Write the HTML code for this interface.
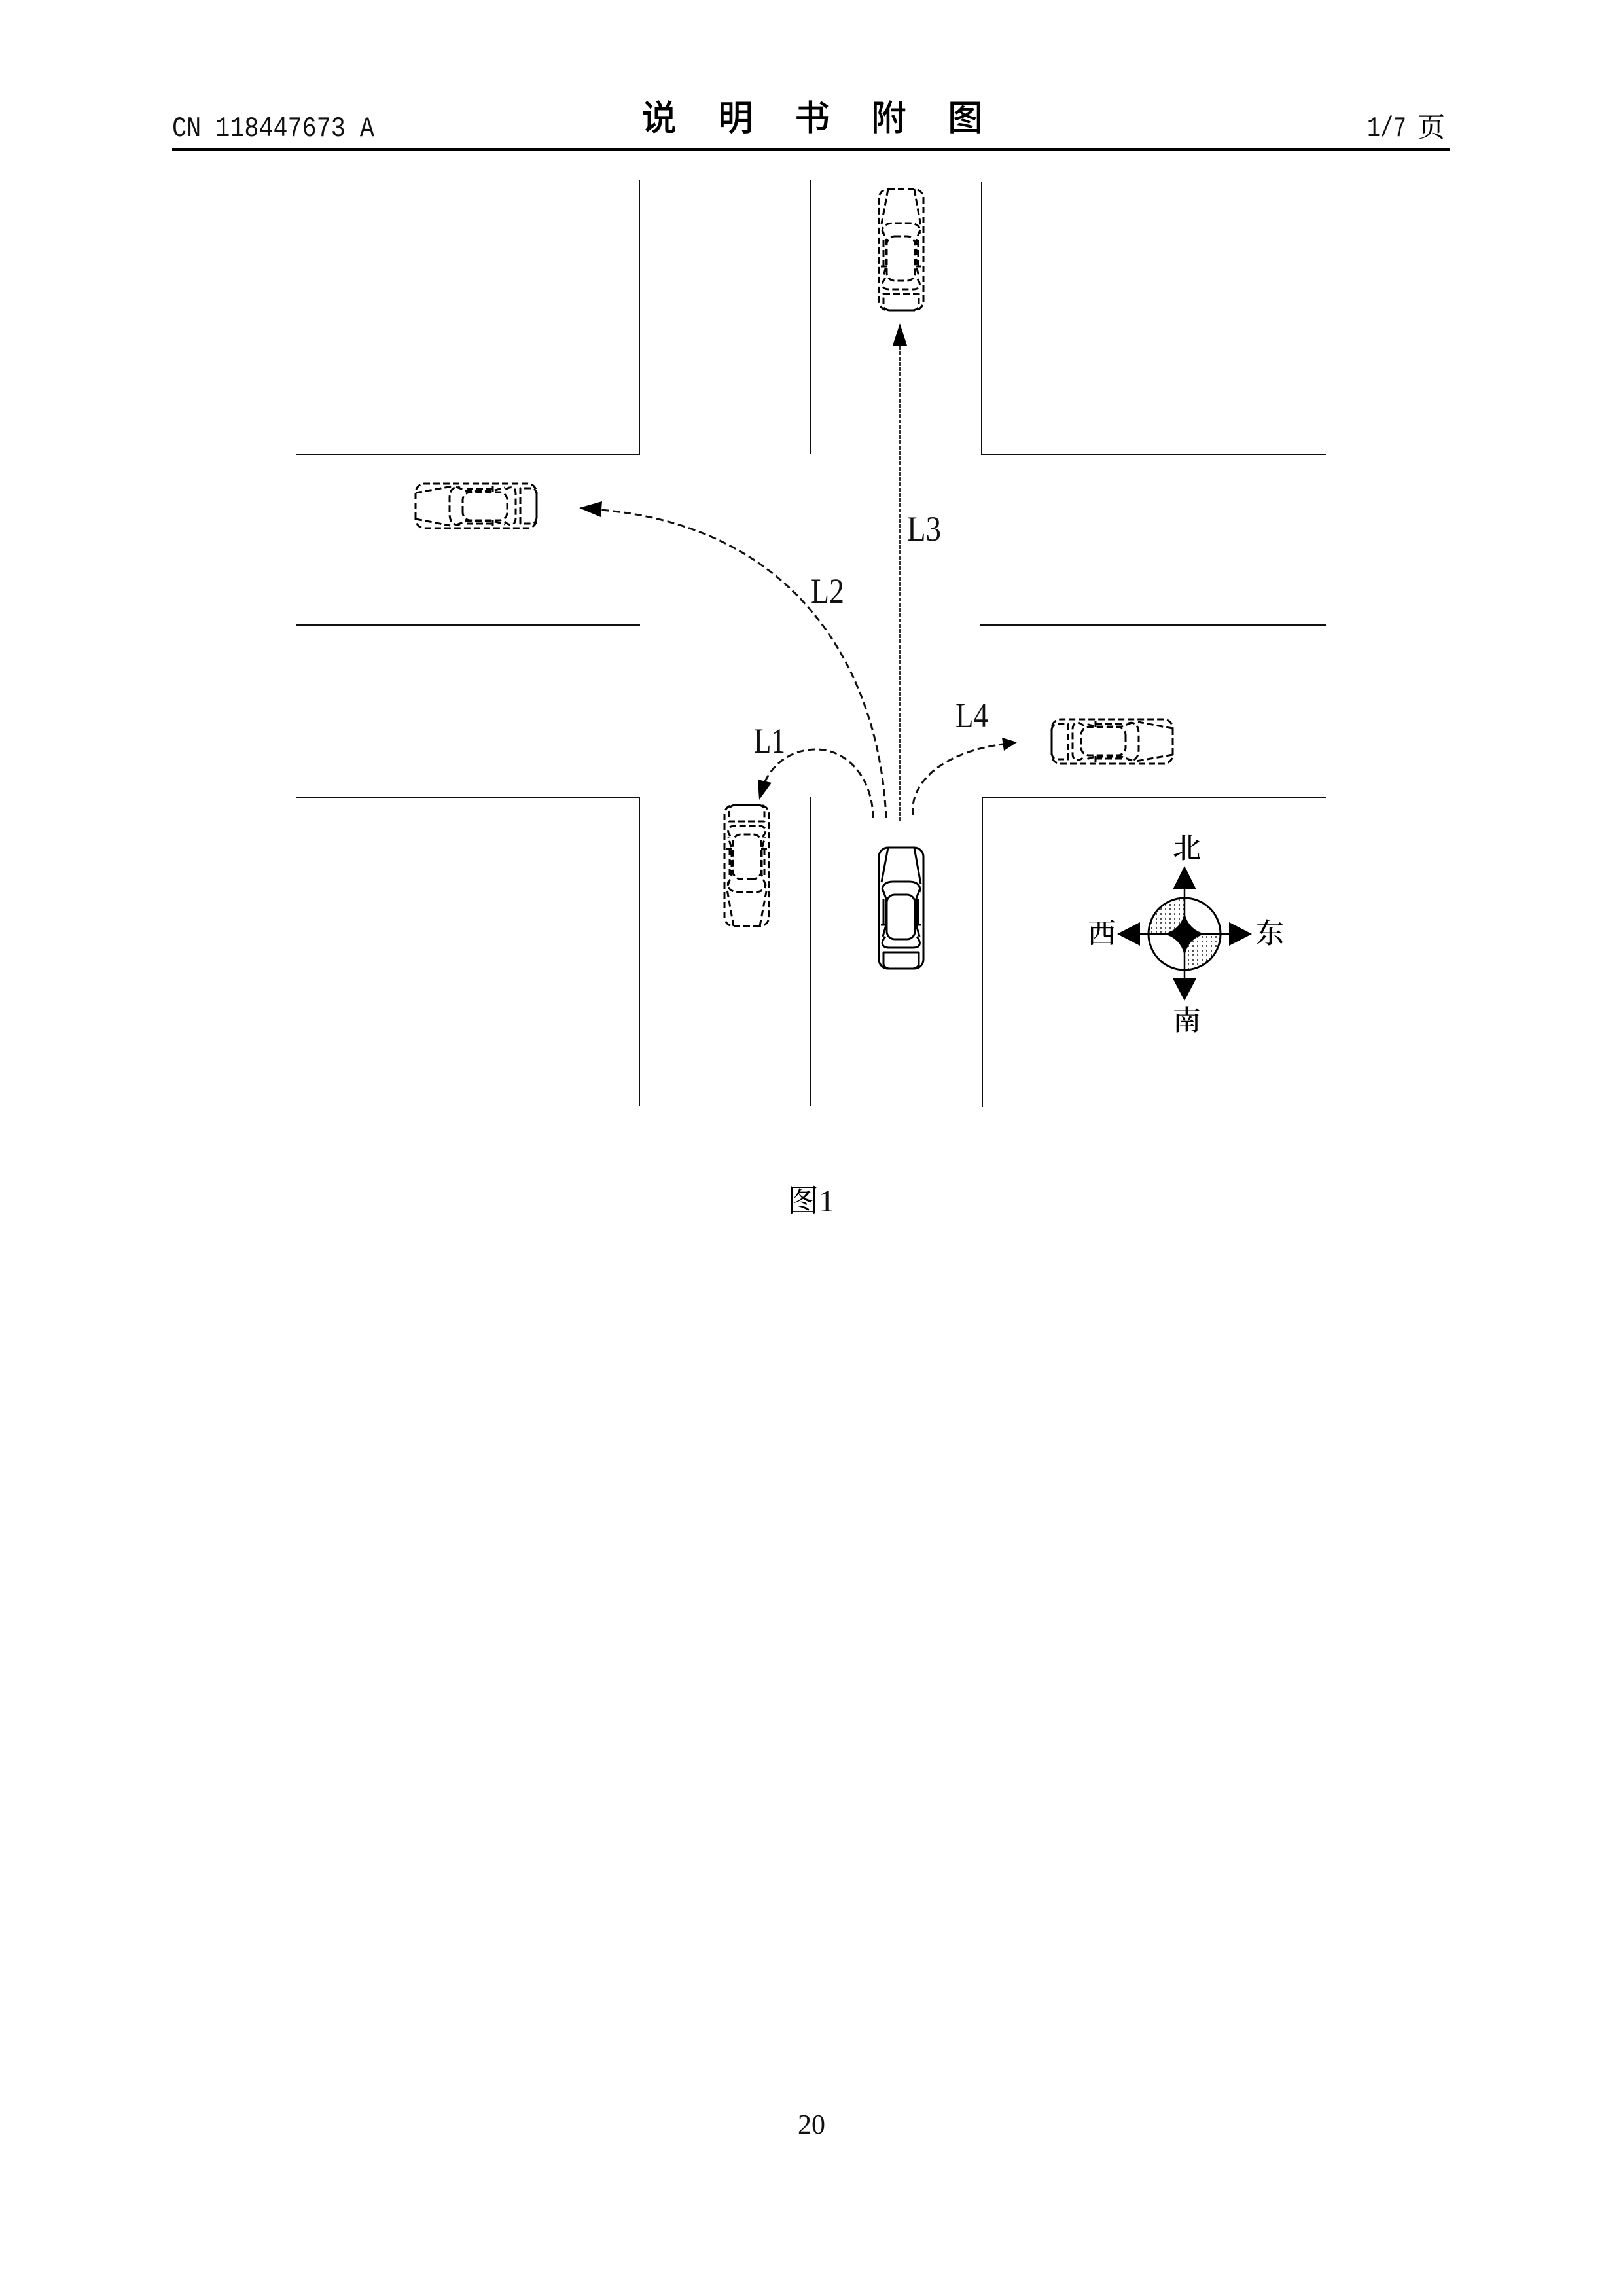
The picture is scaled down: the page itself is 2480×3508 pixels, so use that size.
<!DOCTYPE html>
<html><head><meta charset="utf-8"><style>
html,body{margin:0;padding:0;background:#fff}
svg{display:block}
.s{font-family:"Liberation Serif","Noto Serif CJK SC",serif;fill:#111}
.m{font-family:"Liberation Mono","Noto Serif CJK SC",monospace;fill:#111}
.c{font-family:"Noto Serif CJK SC","Liberation Serif",serif;fill:#000}
.h{font-family:"Noto Sans CJK SC","Liberation Sans",sans-serif;fill:#000}
</style></head><body>
<svg width="2480" height="3508" viewBox="0 0 2480 3508" xmlns="http://www.w3.org/2000/svg">
<defs>
<pattern id="dots" width="7" height="7" patternUnits="userSpaceOnUse"><rect width="7" height="7" fill="#fff"/><rect x="2" y="2" width="2" height="3" fill="#555"/></pattern>
<g id="car" fill="none" stroke-linejoin="round" stroke-linecap="butt">
<rect x="0" y="0" width="68" height="185" rx="14"/>
<path d="M14 0L4 53M54 0L64 56"/>
<path d="M6 68C3 58 10 52 22 52H46C58 52 65 58 62 68"/>
<rect x="12" y="72" width="43" height="68" rx="12"/>
<path d="M10 136C2 145 4 153 16 153H52C64 153 65 145 58 136"/>
<path d="M7 160H61V178Q60 184 52 185H16Q8 184 7 178Z"/>
<path d="M5 62L11 78V118L6 136M63 62L57 78V118L62 136"/>
<path d="M7 78V118M60 78V118M3 118H12M56 118H65"/>
</g>
</defs>
<rect width="2480" height="3508" fill="#fff"/>

<!-- header -->
<text class="m" x="263" y="208" font-size="44" textLength="309" lengthAdjust="spacingAndGlyphs">CN 118447673 A</text>
<g class="h" font-size="54" font-weight="500">
<text x="980" y="199">说</text><text x="1097" y="199">明</text><text x="1214" y="199">书</text><text x="1331" y="199">附</text><text x="1448" y="199">图</text>
</g>
<text class="m" x="2089" y="208" font-size="44" textLength="60" lengthAdjust="spacingAndGlyphs">1/7</text>
<text class="c" x="2166" y="209" font-size="42" font-weight="400">页</text>
<rect x="263" y="226" width="1953" height="5" fill="#000"/>

<!-- roads -->
<g stroke="#111" stroke-width="2" fill="none">
<path d="M977 275V694H452"/>
<path d="M1239 275V694"/>
<path d="M1500 278V694H2026"/>
<path d="M452 955H978"/>
<path d="M1498 955H2026"/>
<path d="M452 1219H977V1690"/>
<path d="M1239 1217V1690"/>
<path d="M2026 1218H1501V1692"/>
</g>

<!-- trajectories -->
<g fill="none" stroke="#111" stroke-width="3" stroke-dasharray="11 6">
<path d="M1334 1250C1334 1190 1295 1145 1248 1145C1205 1145 1180 1170 1168 1196"/>
<path d="M1354 1250C1345 1040 1230 800 905 778"/>
<path d="M1395 1245C1390 1195 1440 1150 1532 1137"/>
</g>
<path d="M1375 1255V525" stroke="#333" stroke-width="2" stroke-dasharray="6 2" fill="none"/>
<polygon points="1160,1222 1158,1191 1179,1196" fill="#000"/>
<polygon points="885,776 920,766 918,790" fill="#000"/>
<polygon points="1375,494 1364,528 1386,528" fill="#000"/>
<polygon points="1554,1134 1531,1127 1534,1147" fill="#000"/>

<!-- labels -->
<g class="s" font-size="54">
<text x="1152" y="1150" textLength="48" lengthAdjust="spacingAndGlyphs">L1</text>
<text x="1239" y="921" textLength="51" lengthAdjust="spacingAndGlyphs">L2</text>
<text x="1386" y="826" textLength="52" lengthAdjust="spacingAndGlyphs">L3</text>
<text x="1460" y="1111" textLength="50" lengthAdjust="spacingAndGlyphs">L4</text>
</g>

<!-- cars -->
<use href="#car" transform="translate(1343 1295)" stroke="#000" stroke-width="3"/>
<g stroke="#000" stroke-width="3" stroke-dasharray="10 5">
<use href="#car" transform="translate(1343 289)"/>
<use href="#car" transform="translate(1175 1415) rotate(180)"/>
<use href="#car" transform="translate(635 807) rotate(-90)"/>
<use href="#car" transform="translate(1792 1099) rotate(90)"/>
</g>

<!-- compass -->
<path d="M1810 1427V1372A55 55 0 0 0 1755 1427Z" fill="url(#dots)"/>
<path d="M1810 1427V1482A55 55 0 0 0 1865 1427Z" fill="url(#dots)"/>
<circle cx="1810" cy="1427" r="55" fill="none" stroke="#000" stroke-width="3"/>
<path d="M1810 1359V1495M1742 1427H1878" stroke="#000" stroke-width="2.5"/>
<path d="M1810 1395Q1816 1421 1842 1427Q1816 1433 1810 1460Q1804 1433 1778 1427Q1804 1421 1810 1395Z" fill="#000"/>
<g fill="#000">
<polygon points="1810,1323 1792,1359 1828,1359"/>
<polygon points="1810,1529 1792,1495 1828,1495"/>
<polygon points="1707,1427 1742,1409 1742,1445"/>
<polygon points="1913,1427 1878,1409 1878,1445"/>
</g>
<g class="c" font-size="43" font-weight="500">
<text x="1792" y="1311">北</text>
<text x="1792" y="1574">南</text>
<text x="1662" y="1441">西</text>
<text x="1919" y="1441">东</text>
</g>

<!-- caption -->
<text class="c" x="1203" y="1851" font-size="48" font-weight="400">图</text>
<text class="s" x="1251" y="1851" font-size="48">1</text>
<text class="s" x="1219" y="3260" font-size="42">20</text>
</svg>
</body></html>
